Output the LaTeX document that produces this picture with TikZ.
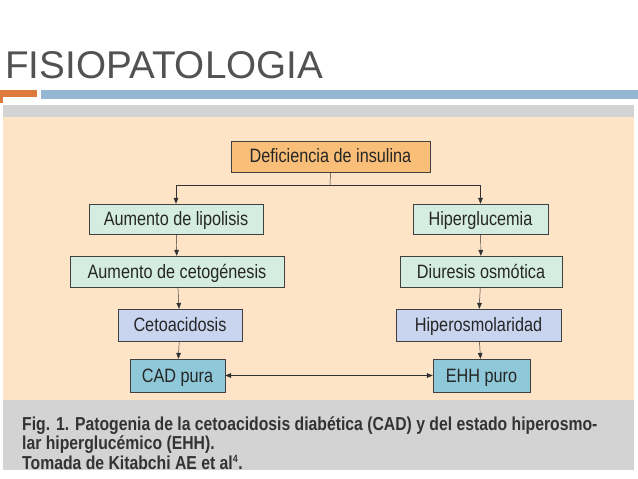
\documentclass[tikz,border=0pt]{standalone}
\usepackage{fontspec}
\setmainfont{Liberation Sans}
\newfontfamily\narrowfont[FakeStretch=0.84]{Liberation Sans}
\usetikzlibrary{arrows.meta}
\definecolor{peach}{HTML}{FDE4C6}
\definecolor{capgray}{HTML}{D3D3D3}
\definecolor{boxorange}{HTML}{F9BE78}
\definecolor{boxgreen}{HTML}{D4EDE0}
\definecolor{boxlilac}{HTML}{C9D4EE}
\definecolor{boxteal}{HTML}{8FC8D8}
\definecolor{barblue}{HTML}{94B6D2}
\definecolor{barorange}{HTML}{DD7A3E}
\tikzset{
	box/.style={draw=black!75,thin,text height=2.1ex,text depth=0ex,font=\narrowfont\fontsize{16.5}{18}\selectfont,text=black!85},
	flow/.style={-{Triangle[length=5pt,width=4pt]},black!80}
}
\begin{document}
\begin{tikzpicture}[x=0.03cm,y=-0.03cm]
	\useasboundingbox (0,0) rectangle (638,479);
	\fill[white] (0,0) rectangle (638,479);

	\node[anchor=base west,inner sep=0,text=black!68,font=\fontsize{33}{38}\selectfont] (title) at (5,79) {FISIOPATOLOGIA};
	\fill[barorange] (0,90) rectangle (37,97);
	\fill[barorange] (0,97) rectangle (3,103);
	\fill[barblue] (41,90) rectangle (638,99);

	\fill[capgray] (3,105) rectangle (634,117);
	\fill[peach] (3,117) rectangle (634,400);
	\fill[capgray] (3,400) rectangle (634,470);

	\node[box,fill=boxorange,minimum width=199*0.03cm,minimum height=31*0.03cm] (defic) at (330.5,156.5) {Deficiencia de insulina};
	\node[box,fill=boxgreen,minimum width=174*0.03cm,minimum height=30*0.03cm] (lipo) at (176,219) {Aumento de lipolisis};
	\node[box,fill=boxgreen,minimum width=135*0.03cm,minimum height=30*0.03cm] (hiperg) at (480.5,219) {Hiperglucemia};
	\node[box,fill=boxgreen,minimum width=214*0.03cm,minimum height=31*0.03cm] (ceto) at (177,271.5) {Aumento de cetogénesis};
	\node[box,fill=boxgreen,minimum width=162*0.03cm,minimum height=31*0.03cm] (diur) at (481,271.5) {Diuresis osmótica};
	\node[box,fill=boxlilac,minimum width=124*0.03cm,minimum height=32*0.03cm] (acid) at (180,325) {Cetoacidosis};
	\node[box,fill=boxlilac,minimum width=165*0.03cm,minimum height=32*0.03cm] (osmo) at (478.5,325) {Hiperosmolaridad};
	\node[box,fill=boxteal,minimum width=95*0.03cm,minimum height=33*0.03cm] (cad) at (177.5,375.5) {CAD pura};
	\node[box,fill=boxteal,minimum width=97*0.03cm,minimum height=33*0.03cm] (ehh) at (481.5,375.5) {EHH puro};

	\coordinate (split) at (330,185);
	\draw[black!80] (defic.south) -- (split);
	\draw[flow] (split) -| (lipo.north);
	\draw[flow] (split) -| (hiperg.north);
	\draw[flow] (lipo) -- (ceto);
	\draw[flow] (ceto) -- (acid);
	\draw[flow] (acid) -- (cad);
	\draw[flow] (hiperg) -- (diur);
	\draw[flow] (diur) -- (osmo);
	\draw[flow] (osmo) -- (ehh);
	\draw[flow,{Triangle[length=5pt,width=4pt]}-{Triangle[length=5pt,width=4pt]}] (cad) -- (ehh);

	\node[anchor=north west,align=left,inner sep=0,text=black!80,font=\narrowfont\bfseries\fontsize{16}{14.8}\selectfont] (caption) at (22,417) {Fig. 1. Patogenia de la cetoacidosis diabética (CAD) y del estado hiperosmo-\\lar hiperglucémico (EHH).\\Tomada de Kitabchi AE et al\textsuperscript{\fontsize{9}{9}\selectfont 4}.};
\end{tikzpicture}
\end{document}
